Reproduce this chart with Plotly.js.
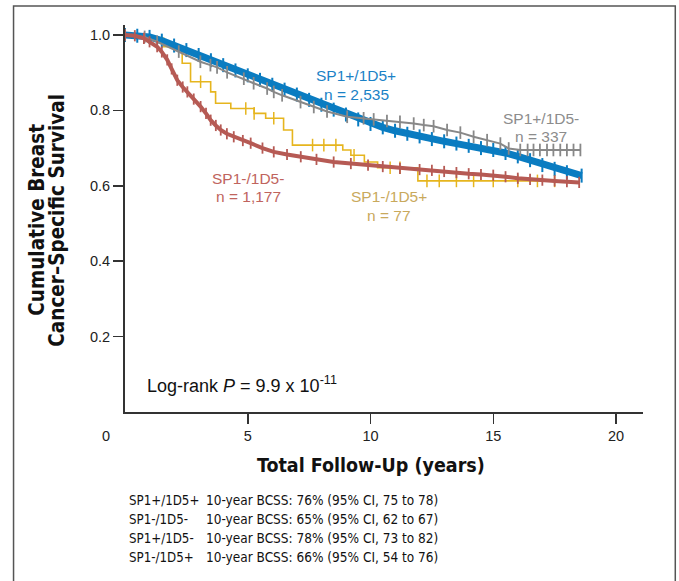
<!DOCTYPE html>
<html><head><meta charset="utf-8">
<script src="https://cdn.plot.ly/plotly-3.0.1.min.js"></script>
<style>html,body{margin:0;padding:0;background:#fff}#chart{width:679px;height:581px}</style>
</head><body><div id="chart"></div>
<script>
// ---- data ----
const blueT = [0, 0.5, 1.0, 1.5, 2.0, 2.5, 3.0, 3.5, 4.0, 4.5, 5.0, 5.5, 6.0, 6.5, 7.0, 7.5, 8.0, 8.5, 9.0, 9.5, 10.0, 10.5, 11.0, 11.5, 12.0, 12.5, 13.0, 13.5, 14.0, 14.5, 15.0, 15.5, 16.0, 16.5, 17.0, 17.5, 18.0, 18.6];
const blueS = [1.0, 0.998, 0.995, 0.985, 0.972, 0.96, 0.947, 0.933, 0.92, 0.906, 0.893, 0.881, 0.868, 0.855, 0.842, 0.828, 0.815, 0.802, 0.789, 0.776, 0.764, 0.755, 0.746, 0.738, 0.731, 0.724, 0.718, 0.712, 0.706, 0.70, 0.695, 0.687, 0.678, 0.668, 0.655, 0.645, 0.636, 0.627];

const grayT = [0, 0.8, 1.31, 2.19, 3.07, 3.48, 3.75, 4.16, 4.84, 5.24, 5.79, 6.06, 6.40, 7.15, 7.69, 8.23, 9.05, 9.72, 10.13, 10.67, 11.2, 11.76, 12.17, 12.57, 13.12, 13.66, 14.2, 14.75, 15.29, 15.63, 16.1, 16.4, 16.64, 16.9, 17.19, 17.45, 17.73, 18.0, 18.27, 18.55];
const grayS = [1.0, 0.995, 0.982, 0.956, 0.929, 0.920, 0.914, 0.901, 0.884, 0.872, 0.858, 0.849, 0.840, 0.822, 0.809, 0.797, 0.783, 0.779, 0.776, 0.772, 0.770, 0.765, 0.761, 0.758, 0.748, 0.741, 0.730, 0.721, 0.712, 0.699, 0.695, 0.695, 0.695, 0.695, 0.695, 0.695, 0.695, 0.695, 0.695, 0.695];

const redT = [0, 0.4, 0.77, 1.0, 1.31, 1.5, 1.72, 1.9, 2.13, 2.35, 2.54, 2.8, 3.08, 3.3, 3.49, 3.7, 3.9, 4.15, 4.43, 4.8, 5.12, 5.6, 6.06, 6.6, 7.16, 7.8, 8.5, 9.2, 9.9, 10.5, 11.2, 12.0, 12.5, 13.0, 13.5, 14.0, 14.5, 15.0, 15.5, 16.0, 16.5, 17.0, 17.5, 18.0, 18.5];
const redS = [1.0, 0.998, 0.991, 0.982, 0.969, 0.955, 0.934, 0.91, 0.88, 0.862, 0.849, 0.83, 0.81, 0.792, 0.774, 0.76, 0.748, 0.738, 0.73, 0.72, 0.713, 0.70, 0.69, 0.683, 0.677, 0.67, 0.663, 0.659, 0.655, 0.651, 0.646, 0.643, 0.641, 0.638, 0.635, 0.632, 0.63, 0.628, 0.624, 0.62, 0.617, 0.615, 0.613, 0.611, 0.609];

const yelT = [0, 1.04, 1.58, 2.33, 2.67, 3.49, 3.69, 4.31, 5.26, 5.73, 6.46, 6.82, 8.87, 9.2, 9.75, 10.29, 11.93, 17.8];
const yelS = [1.0, 0.991, 0.969, 0.925, 0.876, 0.849, 0.819, 0.805, 0.792, 0.779, 0.748, 0.708, 0.695, 0.681, 0.663, 0.648, 0.613, 0.613];
const yelCensor = [3.08, 4.92, 5.26, 6.06, 7.64, 8.1, 8.59, 9.33, 10.8, 11.2, 12.3, 12.8, 13.5, 14.2, 15.0, 16.0, 16.8, 17.5];

const xTicks = [5, 10, 15, 20];
const yTicks = [0.2, 0.4, 0.6, 0.8, 1.0];
const yTickText = ['0.2', '0.4', '0.6', '0.8', '1.0'];

const groupLabels = ['SP1+/1D5+', 'SP1+/1D5-', 'SP1-/1D5-', 'SP1-/1D5+'];
const groupN = ['n = 2,535', 'n = 337', 'n = 1,177', 'n = 77'];
const footLabels = ['SP1+/1D5+', 'SP1-/1D5-', 'SP1+/1D5-', 'SP1-/1D5+'];
const footTexts = ['10-year BCSS: 76% (95% CI, 75 to 78)', '10-year BCSS: 65% (95% CI, 62 to 67)', '10-year BCSS: 78% (95% CI, 73 to 82)', '10-year BCSS: 66% (95% CI, 54 to 76)'];

// ---- styles ----
const BLUE = '#0a7cc1', GRAY = '#888888', RED = '#b65a54', YEL = '#e6b51e';
const LBLUE = '#1a82c6', LGRAY = '#8c8c8c', LRED = '#c0645d', LYEL = '#c9a95c';
const SANS = 'Liberation Sans, Arial, sans-serif';
const NARROW = 'Liberation Sans Narrow, Arial Narrow, DejaVu Sans Condensed, sans-serif';

function stepAt(T, S, t) { let v = S[0]; for (let i = 0; i < T.length; i++) { if (T[i] <= t) v = S[i]; } return v; }

const traces = [
  {x: yelT, y: yelS, mode: 'lines', line: {color: YEL, width: 1.6, shape: 'hv'}, hoverinfo: 'skip'},
  {x: yelCensor, y: yelCensor.map(t => stepAt(yelT, yelS, t)), mode: 'markers',
   marker: {symbol: 'line-ns-open', size: 9, color: YEL, line: {color: YEL, width: 1.5}}, hoverinfo: 'skip'},
  {x: blueT, y: blueS, mode: 'lines+markers', line: {color: BLUE, width: 7},
   marker: {symbol: 'line-ns-open', size: 10, color: BLUE, line: {color: BLUE, width: 2}}, hoverinfo: 'skip'},
  {x: grayT, y: grayS, mode: 'lines+markers', line: {color: GRAY, width: 2},
   marker: {symbol: 'line-ns-open', size: 9, color: GRAY, line: {color: GRAY, width: 1.8}}, hoverinfo: 'skip'},
  {x: redT, y: redS, mode: 'lines+markers', line: {color: RED, width: 4},
   marker: {symbol: 'line-ns-open', size: 8, color: RED, line: {color: RED, width: 1.8}}, hoverinfo: 'skip'}
];

// pixel helpers for layout placement
const L = 124.5, R = 642.7, T = 25, B = 411.7;
const px = v => (v - L) / (R - L);
const py = v => (B - v) / (B - T);

const labelPos = [[356, 75, 94], [541, 118, 136], [248, 178, 196], [389, 196, 215]];
const labelCol = [LBLUE, LGRAY, LRED, LYEL];
const ann = [];
groupLabels.forEach((g, i) => {
  const p = labelPos[i];
  ann.push({xref: 'paper', yref: 'paper', x: px(p[0]), y: py(p[1]), text: g, showarrow: false, xanchor: 'center', yanchor: 'middle', font: {family: SANS, size: 15.5, color: labelCol[i]}});
  ann.push({xref: 'paper', yref: 'paper', x: px(p[0]), y: py(p[2]), text: groupN[i], showarrow: false, xanchor: 'center', yanchor: 'middle', font: {family: SANS, size: 15.5, color: labelCol[i]}});
});
ann.push({xref: 'paper', yref: 'paper', x: px(145), y: py(384), xanchor: 'left', yanchor: 'middle', showarrow: false,
  text: 'Log-rank <i>P</i> = 9.9 x 10<sup>-11</sup>', font: {family: SANS, size: 18, color: '#111'}});
ann.push({xref: 'paper', yref: 'paper', x: px(105), y: py(436), xanchor: 'center', yanchor: 'middle', showarrow: false,
  text: '0', font: {family: SANS, size: 14.5, color: '#222'}});
ann.push({xref: 'paper', yref: 'paper', x: px(370.5), y: py(465), xanchor: 'center', yanchor: 'middle', showarrow: false,
  text: '<b>Total Follow-Up (years)</b>', font: {family: NARROW, size: 19.5, color: '#111'}});
ann.push({xref: 'paper', yref: 'paper', x: px(37), y: py(220), xanchor: 'center', yanchor: 'middle', showarrow: false, textangle: -90,
  text: '<b>Cumulative Breast</b>', font: {family: NARROW, size: 20.5, color: '#111'}});
ann.push({xref: 'paper', yref: 'paper', x: px(57), y: py(220), xanchor: 'center', yanchor: 'middle', showarrow: false, textangle: -90,
  text: '<b>Cancer–Specific Survival</b>', font: {family: NARROW, size: 20.5, color: '#111'}});
const footY = [500, 519, 538, 557];
footLabels.forEach((f, i) => {
  ann.push({xref: 'paper', yref: 'paper', x: px(127), y: py(footY[i]), xanchor: 'left', yanchor: 'middle', showarrow: false,
    text: f, font: {family: NARROW, size: 13.2, color: '#111'}});
  ann.push({xref: 'paper', yref: 'paper', x: px(204), y: py(footY[i]), xanchor: 'left', yanchor: 'middle', showarrow: false,
    text: footTexts[i], font: {family: NARROW, size: 13.5, color: '#111'}});
});

const layout = {
  width: 679, height: 581,
  margin: {l: L, r: 679 - R, t: T, b: 581 - B, pad: 0},
  paper_bgcolor: '#fff', plot_bgcolor: '#fff',
  showlegend: false,
  xaxis: {range: [0, 21.1], tickvals: xTicks, ticktext: xTicks.map(String), ticks: 'outside', ticklen: 10, tickwidth: 1.5, tickcolor: '#333',
    showline: true, linecolor: '#333', linewidth: 2, showgrid: false, zeroline: false,
    tickfont: {family: SANS, size: 14.5, color: '#222'}, fixedrange: true},
  yaxis: {range: [0, 1.0265], tickvals: yTicks, ticktext: yTickText, ticks: 'outside', ticklen: 10, tickwidth: 1.5, tickcolor: '#333',
    showline: true, linecolor: '#333', linewidth: 2, showgrid: false, zeroline: false,
    tickfont: {family: SANS, size: 14.5, color: '#222'}, fixedrange: true},
  annotations: ann,
  shapes: [{type: 'rect', xref: 'paper', yref: 'paper', x0: px(13), x1: px(675), y0: py(600), y1: py(6),
    line: {color: '#555', width: 1.5}, fillcolor: 'rgba(0,0,0,0)', layer: 'above'}]
};

Plotly.newPlot('chart', traces, layout, {staticPlot: true, displayModeBar: false});
</script></body></html>
